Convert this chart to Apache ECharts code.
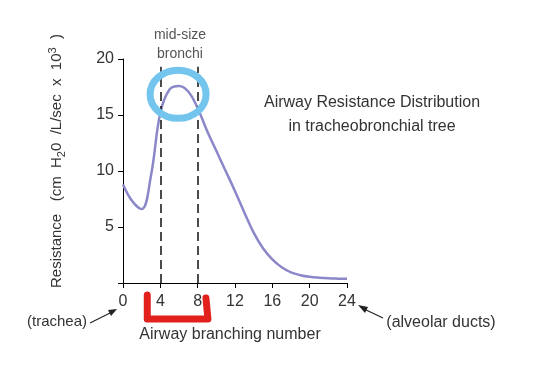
<!DOCTYPE html>
<html>
<head>
<meta charset="utf-8">
<script src="https://cdn.jsdelivr.net/npm/echarts@6/dist/echarts.min.js"></script>
<style>html,body{margin:0;padding:0;background:#fff}#c{width:538px;height:378px}</style>
</head>
<body>
<div id="c"></div>
<script>
// Data
const branching  = [0, 1, 2, 3, 4, 5, 6, 7, 8, 9, 10, 11, 12, 13, 14, 15, 16, 17, 18, 19, 20, 21, 22, 23, 24];
const resistance = [8.8, 7.3, 6.6, 9.6, 15.2, 17.3, 17.6, 17.1, 15.6, 13.6, 11.8, 10.0, 8.2, 6.3, 4.5, 3.1, 2.1, 1.4, 0.95, 0.7, 0.55, 0.47, 0.42, 0.39, 0.37];
const xTicks = [0, 4, 8, 12, 16, 20, 24];
const yTicks = [5, 10, 15, 20];
const dashedAt = [4, 8];
const dashedTop = 19.3;

const FONT = '"Liberation Sans", Arial, sans-serif';
const chart = echarts.init(document.getElementById('c'));
const pts = branching.map((b, i) => [b, resistance[i]]);

chart.setOption({
  animation: false,
  backgroundColor: '#fff',
  grid: { left: 123, right: 191, top: 59, bottom: 95 },
  xAxis: {
    type: 'value', min: 0, max: 24, interval: 4,
    axisLine: { lineStyle: { color: '#000', width: 1 } },
    axisTick: { show: true, length: 5, lineStyle: { color: '#000' } },
    splitLine: { show: false },
    axisLabel: { margin: 11, fontFamily: FONT, fontSize: 16, color: '#333',
      formatter: v => xTicks.indexOf(v) >= 0 ? String(v) : '' }
  },
  yAxis: {
    type: 'value', min: 0, max: 20, interval: 5,
    axisLine: { show: true, lineStyle: { color: '#000', width: 1 } },
    axisTick: { show: true, length: 5, lineStyle: { color: '#000' } },
    splitLine: { show: false },
    axisLabel: { margin: 9, fontFamily: FONT, fontSize: 16, color: '#333',
      formatter: v => yTicks.indexOf(v) >= 0 ? String(v) : '' }
  },
  series: [{
    type: 'line', data: pts, smooth: 0.4, showSymbol: false, symbol: 'none',
    lineStyle: { color: '#8b87c9', width: 2.5 },
    markLine: {
      silent: true, symbol: ['none', 'none'], label: { show: false },
      lineStyle: { color: '#111', type: [9, 5], width: 1.5 },
      data: dashedAt.map(x => [{ coord: [x, 0] }, { coord: [x, dashedTop] }])
    },
    z: 3
  }]
});

const P = (x, y) => chart.convertToPixel({ gridIndex: 0 }, [x, y]);
const c = P(5.9, 16.85);
const ex = P(8.9, 16.85), ey = P(5.9, 19.0);
const b4 = P(2.6, 0), b8 = P(9.1, 0);
const zero = P(0, 0);

const T = (text, x, y, size, color) => ({ type: 'text', x: x, y: y,
  style: { text: text, fill: color || '#333', font: size + 'px ' + FONT, align: 'center', verticalAlign: 'middle' } });

chart.setOption({
  graphic: [
    { type: 'text', x: 57, y: 161, rotation: Math.PI / 2,
      style: { text: 'Resistance   (cm  H{sub|2}0  /L/sec  x  10{sup|3}  )',
        fill: '#333', font: '15px ' + FONT, align: 'center', verticalAlign: 'middle',
        rich: { sub: { fontSize: 11, fontFamily: FONT, fill: '#333', verticalAlign: 'bottom', padding: [7, 0, 0, 0] },
                sup: { fontSize: 11, fontFamily: FONT, fill: '#333', verticalAlign: 'top', padding: [0, 0, 9, 0] } } } },
    T('Airway Resistance Distribution', 372, 103, 16),
    T('in tracheobronchial tree', 372, 127, 16),
    T('mid-size', 180, 35, 14, '#555'),
    T('bronchi', 180, 54, 14, '#555'),
    T('Airway branching number', 230, 335, 16),
    T('(trachea)', 57, 322, 15),
    T('(alveolar ducts)', 441, 323, 16),
    { type: 'line', shape: { x1: 90, y1: 323, x2: 112, y2: 312 }, style: { stroke: '#222', lineWidth: 1.2 } },
    { type: 'polygon', shape: { points: [[117, 309], [108, 310], [111, 316]] }, style: { fill: '#222' } },
    { type: 'line', shape: { x1: 383, y1: 318, x2: 364, y2: 309 }, style: { stroke: '#222', lineWidth: 1.2 } },
    { type: 'polygon', shape: { points: [[358, 305], [365, 313], [368, 307]] }, style: { fill: '#222' } },
    { type: 'ellipse', shape: { cx: c[0], cy: c[1], rx: ex[0] - c[0], ry: c[1] - ey[1] },
      style: { stroke: '#74c5ee', lineWidth: 7, fill: 'none' }, z: 100 },
    { type: 'polyline', shape: { points: [[b4[0], zero[1] + 12], [b4[0], zero[1] + 36], [b8[0], zero[1] + 36], [b8[0] - 2, zero[1] + 15]] },
      style: { stroke: '#e3211c', lineWidth: 7, lineJoin: 'round', lineCap: 'round', fill: 'none' }, z: 100 }
  ]
});
</script>
</body>
</html>
